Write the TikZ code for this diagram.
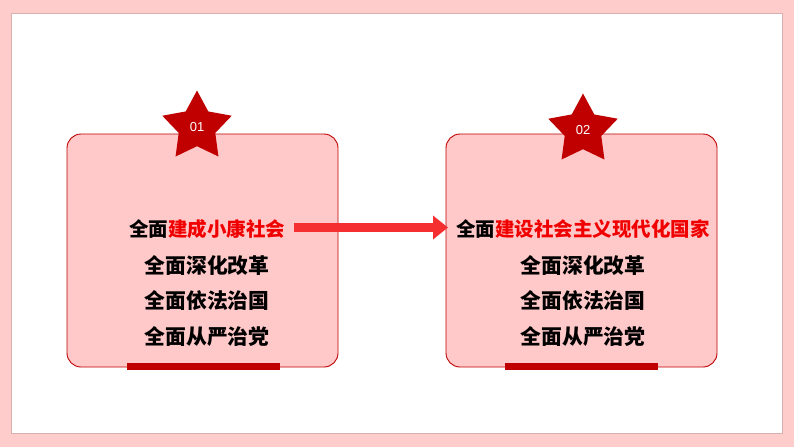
\documentclass[tikz,border=0pt]{standalone}
\usepackage{fontspec}
\newfontfamily\cjk{Noto Sans CJK SC}
\newfontfamily\numfont{Liberation Sans}
\usetikzlibrary{shapes.geometric,arrows.meta}
\definecolor{bgpink}{HTML}{FFCCCC}
\definecolor{boxpink}{HTML}{FFC9C9}
\definecolor{darkred}{HTML}{C00000}
\definecolor{brightred}{HTML}{F52F2F}
\definecolor{txtred}{HTML}{F00000}
\definecolor{shadowc}{HTML}{D8B0B0}
\tikzset{
  panel/.style={draw=darkred, line width=0.9pt, fill=boxpink, rounded corners=14pt},
  starbox/.style={star, star points=5, star point ratio=1.9, fill=darkred, draw=none, minimum size=73pt, inner sep=0pt, text=white, font=\numfont\fontsize{13}{13}\selectfont},
  bar/.style={fill=darkred, draw=none},
  line/.style={font=\cjk\bfseries\fontsize{19.5}{20}\selectfont, inner sep=0pt, anchor=center},
  linew/.style={font=\cjk\bfseries\fontsize{20.8}{21}\selectfont, inner sep=0pt, anchor=center}
}
\begin{document}
\begin{tikzpicture}[x=1pt,y=-1pt]
\useasboundingbox (0,0) rectangle (794,447);
\fill[bgpink] (0,0) rectangle (794,447);
\draw[shadowc, line width=1pt, fill=white] (11,13) rectangle (782,433);
% panels
\draw[panel] (67,134) rectangle (338,367);
\draw[panel] (446,134) rectangle (717,367);
\node[starbox] (s1) at (197,127) {01};
\node[starbox] (s2) at (583,130) {02};
\fill[bar] (127,363) rectangle (280,370);
\fill[bar] (505,363) rectangle (658,370);
\coordinate (b2w) at (448,227.5);
% left texts
\node[line] (l1) at (207,229) {全面\textcolor{txtred}{建成小康社会}};
\node[linew] (l2) at (207,266) {全面深化改革};
\node[linew] (l3) at (207,301) {全面依法治国};
\node[linew] (l4) at (207,337) {全面从严治党};
% right texts
\node[line] (r1) at (583,229) {全面\textcolor{txtred}{建设社会主义现代化国家}};
\node[linew] (r2) at (583,266) {全面深化改革};
\node[linew] (r3) at (583,301) {全面依法治国};
\node[linew] (r4) at (583,337) {全面从严治党};
% arrow
\coordinate (astart) at (294,227.5);
\draw[brightred, line width=9pt, -{Triangle[length=15pt,width=23pt]}] (astart) -- (b2w);
\end{tikzpicture}
\end{document}
